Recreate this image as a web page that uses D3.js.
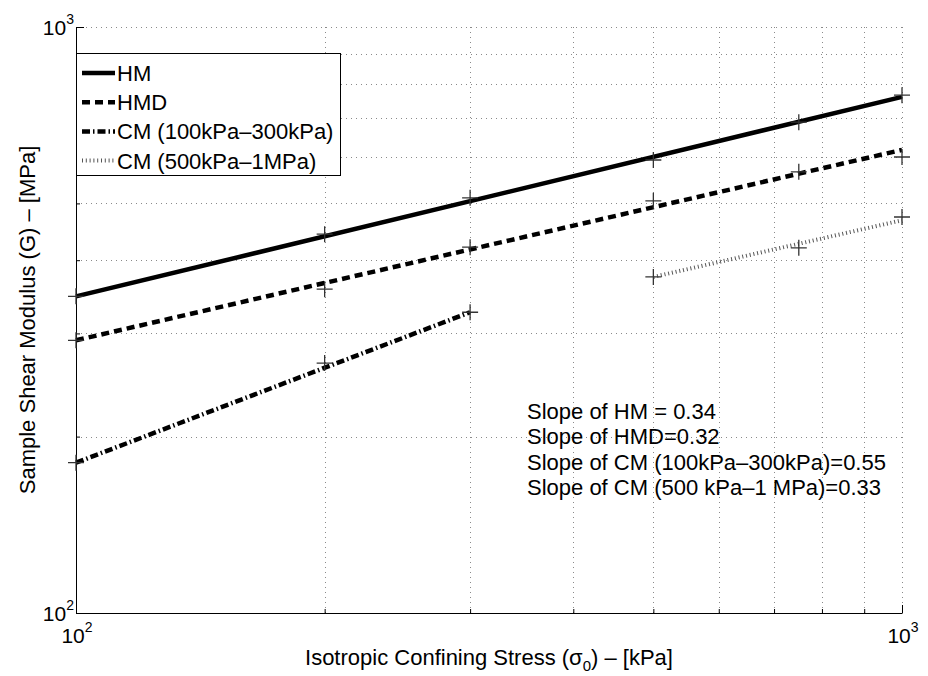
<!DOCTYPE html>
<html>
<head>
<meta charset="utf-8">
<script src="https://cdn.jsdelivr.net/npm/d3@7"></script>
<style>
  body { margin: 0; background: #fff; }
  svg { display: block; font-family: "Liberation Sans", Arial, Helvetica, sans-serif; }
</style>
</head>
<body>
<svg width="928" height="676"></svg>
<script>
// measured points (kPa, MPa)
var stressAll = [100, 200, 300, 500, 750, 1000];
var gHM = [347, 443, 511, 593, 688, 765];
var gHMD = [292, 357, 421, 505, 566, 600];
var stressLow = [100, 200, 300];
var gCMLow = [180.5, 267, 326];
var stressHigh = [500, 750, 1000];
var gCMHigh = [374.5, 420, 474];

// fitted power-law lines, end points
var fitStressFull = [100, 1000];
var fitHM = [347, 760];
var fitHMD = [292, 617];
var fitStressLow = [100, 300];
var fitCMLow = [180.5, 326];
var fitStressHigh = [500, 1000];
var fitCMHigh = [374.5, 468];

var legendLabels = ["HM", "HMD", "CM (100kPa\u2013300kPa)", "CM (500kPa\u20131MPa)"];
var slopeNotes = [
  "Slope of HM = 0.34",
  "Slope of HMD=0.32",
  "Slope of CM (100kPa\u2013300kPa)=0.55",
  "Slope of CM (500 kPa\u20131 MPa)=0.33"
];
var gridValues = [100, 200, 300, 400, 500, 600, 700, 800, 900, 1000];

var svg = d3.select("svg");
var pl = 76, pr = 902, pt = 27, pb = 613;

var x = d3.scaleLog().domain([100, 1000]).range([pl, pr]);
var y = d3.scaleLog().domain([100, 1000]).range([pb, pt]);

var styles = [
  { dash: null, width: 4.5, color: "#000" },
  { dash: "8,5", width: 4.5, color: "#000" },
  { dash: "8,3,1.5,3", width: 4.5, color: "#000" },
  { dash: "1,2.8", width: 4, color: "#555" }
];

// grid
var grid = svg.append("g").attr("stroke", "#8a8a8a").attr("stroke-width", 1)
  .attr("stroke-dasharray", "1,4").attr("shape-rendering", "crispEdges");
grid.selectAll(".gx").data(gridValues).enter().append("line")
  .attr("x1", function(d) { return Math.round(x(d)) + 0.5; })
  .attr("x2", function(d) { return Math.round(x(d)) + 0.5; })
  .attr("y1", pb).attr("y2", pt);
grid.selectAll(".gy").data(gridValues).enter().append("line")
  .attr("y1", function(d) { return Math.round(y(d)) + 0.5; })
  .attr("y2", function(d) { return Math.round(y(d)) + 0.5; })
  .attr("x1", pl).attr("x2", pr);

// axes (left and bottom only, ticks inward)
var minor = gridValues.filter(function(d) { return d !== 100 && d !== 1000; });
var xAxis = svg.append("g").attr("transform", "translate(0," + pb + ")");
xAxis.call(d3.axisBottom(x).tickValues([100, 1000]).tickSizeInner(-8).tickSizeOuter(0).tickFormat(""));
xAxis.append("g").call(d3.axisBottom(x).tickValues(minor).tickSizeInner(-4).tickSizeOuter(0).tickFormat(""))
  .select(".domain").remove();
var yAxis = svg.append("g").attr("transform", "translate(" + pl + ",0)");
yAxis.call(d3.axisLeft(y).tickValues([100, 1000]).tickSizeInner(-8).tickSizeOuter(0).tickFormat(""));
yAxis.append("g").call(d3.axisLeft(y).tickValues(minor).tickSizeInner(-4).tickSizeOuter(0).tickFormat(""))
  .select(".domain").remove();
svg.selectAll(".domain, .tick line").attr("stroke", "#000").attr("stroke-width", 1);

function powerLabel(sel, exp) {
  sel.append("tspan").text("10");
  sel.append("tspan").attr("dy", -11).attr("font-size", 14).text(exp);
}
[[100, "2"], [1000, "3"]].forEach(function(t) {
  svg.append("text").attr("x", x(t[0]) + 1).attr("y", 643)
    .attr("text-anchor", "middle").attr("font-size", 21).call(powerLabel, t[1]);
  svg.append("text").attr("x", pl - 2).attr("y", y(t[0]) + 8)
    .attr("text-anchor", "end").attr("font-size", 21).call(powerLabel, t[1]);
});

// axis titles
var xt = svg.append("text").attr("x", (pl + pr) / 2).attr("y", 665)
  .attr("text-anchor", "middle").attr("font-size", 22);
xt.append("tspan").text("Isotropic Confining Stress (\u03c3");
xt.append("tspan").attr("dy", 6).attr("font-size", 15).text("0");
xt.append("tspan").attr("dy", -6).text(") \u2013 [kPa]");

svg.append("text").attr("transform", "translate(35," + (pt + pb) / 2 + ") rotate(-90)")
  .attr("text-anchor", "middle").attr("font-size", 22)
  .text("Sample Shear Modulus (G) \u2013 [MPa]");

// fit lines
var line = d3.line().x(function(d) { return x(d[0]); }).y(function(d) { return y(d[1]); });
var fits = [
  d3.zip(fitStressFull, fitHM),
  d3.zip(fitStressFull, fitHMD),
  d3.zip(fitStressLow, fitCMLow),
  d3.zip(fitStressHigh, fitCMHigh)
];
svg.append("g").selectAll("path").data(fits).enter().append("path")
  .attr("d", line)
  .attr("fill", "none")
  .attr("stroke", function(d, i) { return styles[i].color; })
  .attr("stroke-width", function(d, i) { return styles[i].width; })
  .attr("stroke-dasharray", function(d, i) { return styles[i].dash; });

// data markers
var points = d3.zip(stressAll, gHM)
  .concat(d3.zip(stressAll, gHMD))
  .concat(d3.zip(stressLow, gCMLow))
  .concat(d3.zip(stressHigh, gCMHigh));
svg.append("g").selectAll("path").data(points).enter().append("path")
  .attr("transform", function(d) { return "translate(" + x(d[0]) + "," + y(d[1]) + ")"; })
  .attr("d", "M-8,0H8M0,-8V8")
  .attr("stroke", "#333").attr("stroke-width", 1.3);

// legend
var lg = svg.append("g");
lg.append("rect").attr("x", pl + 0.5).attr("y", 53.5).attr("width", 264).attr("height", 122)
  .attr("fill", "#fff").attr("stroke", "#000").attr("stroke-width", 1);
var rows = lg.selectAll(".row").data(legendLabels).enter().append("g")
  .attr("transform", function(d, i) { return "translate(0," + (73 + i * 29.2) + ")"; });
rows.append("line").attr("x1", 82).attr("x2", 115)
  .attr("stroke", function(d, i) { return styles[i].color; })
  .attr("stroke-width", function(d, i) { return styles[i].width; })
  .attr("stroke-dasharray", function(d, i) { return styles[i].dash; });
rows.append("text").attr("x", 117).attr("y", 8).attr("font-size", 22).text(function(d) { return d; });

// slope notes
svg.append("g").selectAll("text").data(slopeNotes).enter().append("text")
  .attr("x", 527).attr("y", function(d, i) { return 419 + i * 25.3; })
  .attr("font-size", 22).text(function(d) { return d; });
</script>
</body>
</html>
